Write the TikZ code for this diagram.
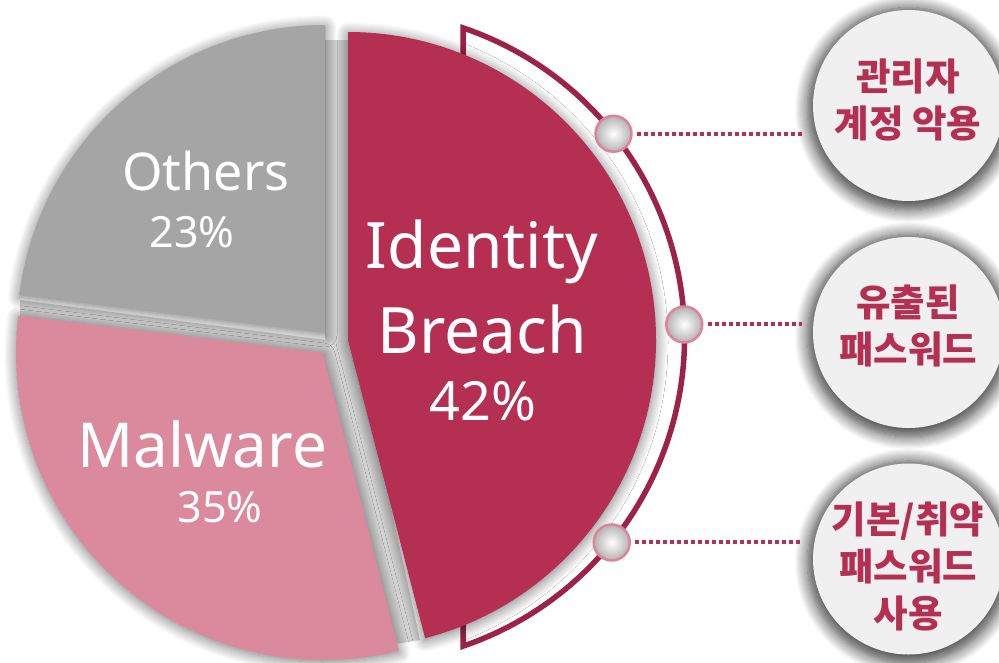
\documentclass[tikz,border=0pt]{standalone}
\usepackage{fontspec}
\usetikzlibrary{shadows.blur,calc}
\newfontfamily\kr{Noto Sans CJK KR}
\newfontfamily\lat{Noto Sans}
\definecolor{idred}{HTML}{B52F53}
\definecolor{ringred}{HTML}{9C2248}
\definecolor{mpink}{HTML}{DB8A9E}
\definecolor{ogray}{HTML}{A5A5A5}
\definecolor{cfill}{HTML}{F0F0F0}
\definecolor{kring}{HTML}{E0829A}
\definecolor{gapgray}{HTML}{D2D2D2}
\tikzset{
  sliceshadow/.style={blur shadow={shadow xshift=0pt, shadow yshift=-2pt, shadow blur radius=12pt, shadow opacity=55, shadow blur steps=12}},
  knob/.style={circle, minimum size=36pt, inner sep=0pt, draw=kring, line width=2.5pt, shading=radial, inner color=white, outer color=gray!60},
  bubble/.style={circle, minimum size=191pt, inner sep=0pt, fill=cfill, blur shadow={shadow xshift=0pt, shadow yshift=-3pt, shadow blur radius=12pt, shadow opacity=75, shadow scale=1.06, shadow blur steps=12}},
  bubtext/.style={align=center, text=idred, font=\kr\bfseries\fontsize{37.5}{47}\selectfont, inner sep=0pt},
  dotline/.style={draw=idred, line width=4pt, dash pattern=on 4pt off 3pt},
  pielabel/.style={text=white, anchor=base, inner sep=0pt}
}
\begin{document}
\begin{tikzpicture}[x=1pt,y=-1pt]
\useasboundingbox (0,0) rectangle (999,662);
% ring behind
\coordinate (rc) at (358,337);
\filldraw[fill=white, draw=ringred, line width=5.5pt]
  ($(rc)+(-71.2:326.5)$) arc[start angle=-71.2, end angle=71.2, radius=326.5] -- cycle;
% grey fill of the gaps between slices
\fill[gapgray] (325,40) -- (352,40) -- (352,330) -- (420,640) -- (390,645) -- (323,360) -- (20,320) -- (20,300) -- (325,340) -- cycle;
% slices
\coordinate (c2) at (325,333);
\fill[ogray, sliceshadow] (c2) -- ($(c2)+(-172.9:308)$) arc[start angle=-172.9, end angle=-90, radius=308] -- cycle;
\coordinate (c3) at (323,353);
\fill[mpink, sliceshadow] (c3) -- ($(c3)+(75.7:307)$) arc[start angle=75.7, end angle=187, radius=307] -- cycle;
\coordinate (c1) at (348,340);
\fill[idred, sliceshadow] (c1) -- ($(c1)+(-90:308)$) arc[start angle=-90, end angle=75.5, radius=308] -- cycle;
% labels
\node[pielabel, font=\lat\fontsize{64}{64}\selectfont] (lid) at (482,268) {Identity};
\node[pielabel, font=\lat\fontsize{64}{64}\selectfont] (lbr) at (482,353) {Breach};
\node[pielabel, font=\lat\fontsize{54}{54}\selectfont] (lpid) at (483,420) {42\%};
\node[pielabel, font=\lat\fontsize{52}{52}\selectfont] (lot) at (206,190) {Others};
\node[pielabel, font=\lat\fontsize{43}{43}\selectfont] (lpot) at (192,247) {23\%};
\node[pielabel, font=\lat\fontsize{62}{62}\selectfont] (lmw) at (202,467) {Malware};
\node[pielabel, font=\lat\fontsize{43}{43}\selectfont] (lpmw) at (220,522) {35\%};
% bubbles
\node[bubble] (b1) at (908.5,105.5) {};
\node[bubble] (b2) at (908.5,332.5) {};
\node[bubble] (b3) at (908.5,559) {};
\node[bubtext] (t1) at (908,100) {관리자\\계정 악용};
\node[bubtext] (t2) at (908,326) {유출된\\패스워드};
\node[bubtext] (t3) at (908,566) {기본/취약\\패스워드\\사용};
% knobs
\node[knob] (k1) at ($(rc)+(-38.5:326.5)$) {};
\node[knob] (k2) at ($(rc)+(-2.2:326.5)$) {};
\node[knob] (k3) at ($(rc)+(39:326.5)$) {};
% connectors
\draw[dotline, shorten <=4pt, shorten >=11pt] (k1.east) -- (k1.east -| b1.west);
\draw[dotline, shorten <=4pt, shorten >=11pt] (k2.east) -- (k2.east -| b2.west);
\draw[dotline, shorten <=4pt, shorten >=11pt] (k3.east) -- (k3.east -| b3.west);
\end{tikzpicture}
\end{document}
